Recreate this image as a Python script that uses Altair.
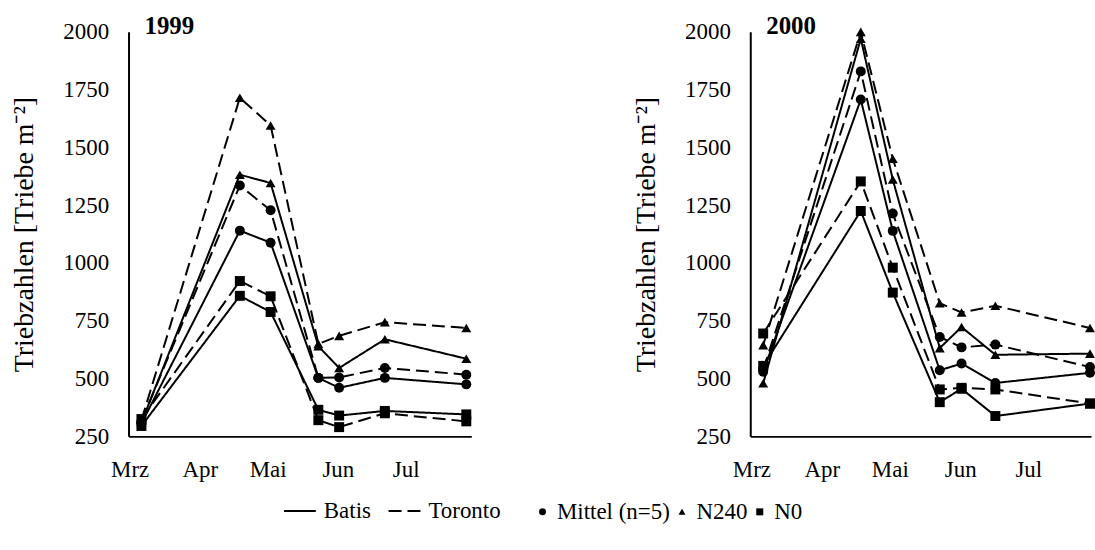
import altair as alt
import pandas as pd

FONT = "Liberation Serif"

years = ["1999", "2000"]
cultivars = ["Batis", "Toronto"]
treatments = ["Mittel (n=5)", "N240", "N0"]
month_labels = ["Mrz", "Apr", "Mai", "Jun", "Jul"]
month_start_days = [0, 31, 61, 92, 122]  # days after 1 March
y_ticks = [250, 500, 750, 1000, 1250, 1500, 1750, 2000]

# sampling dates (days after 1 March)
days_1999 = [5.2, 48.7, 62.3, 83.4, 92.6, 112.8, 148.8]
days_2000 = [5.2, 48.2, 62.3, 83.0, 92.6, 107.5, 149.2]

# 1999 shoot counts (Triebe m-2)
batis_mittel_1999 = [305, 1140, 1088, 503, 460, 503, 475]
toronto_mittel_1999 = [315, 1335, 1228, 503, 505, 546, 517]
batis_n240_1999 = [310, 1382, 1346, 640, 546, 670, 586]
toronto_n240_1999 = [320, 1715, 1595, 650, 685, 744, 719]
batis_n0_1999 = [295, 858, 788, 365, 340, 360, 345]
toronto_n0_1999 = [325, 922, 856, 320, 290, 350, 315]

# 2000 shoot counts (Triebe m-2)
batis_mittel_2000 = [530, 1707, 1139, 536, 565, 481, 525]
toronto_mittel_2000 = [540, 1829, 1214, 680, 635, 647, 550]
batis_n240_2000 = [480, 1970, 1361, 632, 723, 603, 608]
toronto_n240_2000 = [645, 2000, 1451, 826, 786, 815, 719]
batis_n0_2000 = [555, 1225, 872, 398, 456, 338, 392]
toronto_n0_2000 = [695, 1353, 980, 453, 460, 453, 392]

series = {
    ("1999", "Batis", "Mittel (n=5)"): batis_mittel_1999,
    ("1999", "Toronto", "Mittel (n=5)"): toronto_mittel_1999,
    ("1999", "Batis", "N240"): batis_n240_1999,
    ("1999", "Toronto", "N240"): toronto_n240_1999,
    ("1999", "Batis", "N0"): batis_n0_1999,
    ("1999", "Toronto", "N0"): toronto_n0_1999,
    ("2000", "Batis", "Mittel (n=5)"): batis_mittel_2000,
    ("2000", "Toronto", "Mittel (n=5)"): toronto_mittel_2000,
    ("2000", "Batis", "N240"): batis_n240_2000,
    ("2000", "Toronto", "N240"): toronto_n240_2000,
    ("2000", "Batis", "N0"): batis_n0_2000,
    ("2000", "Toronto", "N0"): toronto_n0_2000,
}
days = {"1999": days_1999, "2000": days_2000}

rows = []
for (yr, cv, tr), vals in series.items():
    for d, v in zip(days[yr], vals):
        rows.append({"year": yr, "cultivar": cv, "treatment": tr,
                     "series": cv + " " + tr, "day": d, "value": v})
df = pd.DataFrame(rows)

label_expr = "{}[indexof({}, datum.value)]".format(
    "[" + ",".join("'" + m + "'" for m in month_labels) + "]",
    "[" + ",".join(str(d) for d in month_start_days) + "]",
)

line_legend = alt.Legend(
    title=None, orient="none", legendX=155, legendY=464,
    direction="horizontal", symbolType="stroke", symbolSize=1024,
    symbolStrokeColor="black", symbolStrokeWidth=2,
    labelFont=FONT, labelFontSize=23, labelColor="black",
    labelOffset=7, columnPadding=13,
)
shape_legend = alt.Legend(
    title=None, orient="none", legendX=404, legendY=470,
    direction="horizontal", symbolSize=49,
    symbolFillColor="black", symbolStrokeColor="black", symbolStrokeWidth=0,
    labelFont=FONT, labelFontSize=23, labelColor="black",
    labelOffset=3, columnPadding=0,
)

axis_style = dict(labelFont=FONT, labelFontSize=23, labelColor="black",
                  titleFont=FONT, titleFontSize=28, titleFontWeight="normal",
                  titleColor="black", domainColor="black", domainWidth=2,
                  ticks=False, grid=False)


def panel(year, width, xmax):
    d = df[df["year"] == year]
    x = alt.X("day:Q", scale=alt.Scale(domain=[-0.5, xmax], nice=False, zero=False),
              axis=alt.Axis(values=month_start_days, labelExpr=label_expr, title=None,
                            labelPadding=22, **axis_style))
    y = alt.Y("value:Q", scale=alt.Scale(domain=[250, 2000], nice=False, zero=False),
              axis=alt.Axis(values=y_ticks, format="d", title="Triebzahlen [Triebe m⁻²]",
                            labelPadding=20, titlePadding=24, **axis_style))
    base = alt.Chart(d)
    lines = base.mark_line(color="black", strokeWidth=2).encode(
        x=x, y=y,
        strokeDash=alt.StrokeDash("cultivar:N",
                                  scale=alt.Scale(domain=cultivars, range=[[1, 0], [13, 6]]),
                                  legend=line_legend),
        detail="series:N",
    )
    points = base.mark_point(filled=True, color="black", size=100, opacity=1).encode(
        x=x, y=y,
        shape=alt.Shape("treatment:N",
                        scale=alt.Scale(domain=treatments,
                                        range=["circle", "triangle-up", "square"]),
                        legend=shape_legend),
    )
    title = alt.Chart(pd.DataFrame({"t": [year]})).mark_text(
        align="left", baseline="middle", font=FONT, fontSize=25, fontWeight="bold",
        color="black",
    ).encode(x=alt.value(16), y=alt.value(-6), text="t:N")
    return alt.layer(lines, points, title).properties(width=width, height=406)


chart = alt.hconcat(
    panel("1999", 344, 151.0),
    panel("2000", 342, 149.65),
    spacing=161,
).properties(
    padding={"left": 11, "top": 13, "right": 0, "bottom": 5},
).configure_view(stroke=None)

chart.save("out.html", embed_options={"renderer": "svg", "actions": False})
